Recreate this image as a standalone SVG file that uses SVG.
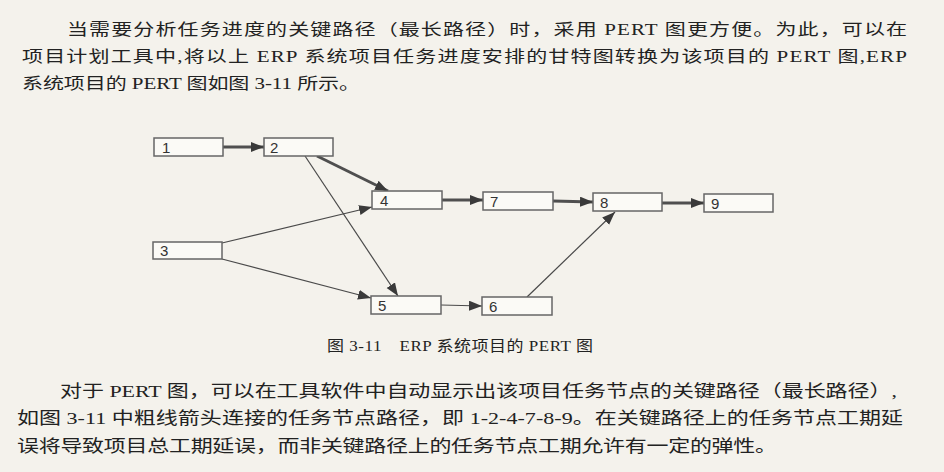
<svg xmlns="http://www.w3.org/2000/svg" width="944" height="472" viewBox="0 0 944 472">
<style>
.body{font-family:"Liberation Serif","Noto Sans CJK SC",serif;fill:#222;}
.box{fill:#fbfaf6;stroke:#666;stroke-width:1.5;}
.lbl{font-family:"Liberation Sans","DejaVu Sans",sans-serif;font-size:15px;fill:#333;}
.thick{stroke:#4f4f4f;stroke-width:3;fill:none;}
.thin{stroke:#4a4a4a;stroke-width:1.2;fill:none;}
</style>
<defs>
<marker id="ah" markerUnits="userSpaceOnUse" markerWidth="14" markerHeight="12" refX="13" refY="5" orient="auto">
<path d="M0,0 L13,5 L0,10 z" fill="#3a3a3a"/>
</marker>
</defs>
<rect width="944" height="472" fill="#f4f2ec"/>
<g id="para-top">
<text class="body" font-size="21" transform="translate(67,35) scale(1,0.75)" textLength="840" lengthAdjust="spacing">当需要分析任务进度的关键路径（最长路径）时，采用 PERT 图更方便。为此，可以在</text>
<text class="body" font-size="21" transform="translate(22,62) scale(1,0.75)" textLength="885" lengthAdjust="spacing">项目计划工具中,将以上 ERP 系统项目任务进度安排的甘特图转换为该项目的 PERT 图,ERP</text>
<text class="body" font-size="21" transform="translate(22,89) scale(1,0.75)" textLength="338" lengthAdjust="spacing">系统项目的 PERT 图如图 3-11 所示。</text>
</g>
<g id="connectors">
<line class="thick" x1="223" y1="147" x2="264" y2="147" marker-end="url(#ah)"/>
<line class="thick" x1="317" y1="156" x2="388" y2="191" marker-end="url(#ah)"/>
<line class="thin" x1="305" y1="156" x2="398" y2="296" marker-end="url(#ah)"/>
<line class="thin" x1="222" y1="243" x2="372" y2="207" marker-end="url(#ah)"/>
<line class="thin" x1="222" y1="259" x2="371" y2="298" marker-end="url(#ah)"/>
<line class="thick" x1="442" y1="200" x2="483" y2="200" marker-end="url(#ah)"/>
<line class="thick" x1="553" y1="201" x2="593" y2="202" marker-end="url(#ah)"/>
<line class="thick" x1="662" y1="203" x2="704" y2="203" marker-end="url(#ah)"/>
<line class="thin" x1="441" y1="305" x2="482" y2="306" marker-end="url(#ah)"/>
<line class="thin" x1="527" y1="297" x2="615" y2="212" marker-end="url(#ah)"/>
</g>
<g id="node1"><rect class="box" x="154" y="138" width="69" height="18"/><text class="lbl" x="162" y="153">1</text></g>
<g id="node2"><rect class="box" x="264" y="138" width="69" height="18"/><text class="lbl" x="270" y="153">2</text></g>
<g id="node3"><rect class="box" x="153" y="242" width="69" height="17"/><text class="lbl" x="160" y="256">3</text></g>
<g id="node4"><rect class="box" x="372" y="191" width="70" height="18"/><text class="lbl" x="380" y="206">4</text></g>
<g id="node5"><rect class="box" x="371" y="296" width="70" height="18"/><text class="lbl" x="378" y="311">5</text></g>
<g id="node6"><rect class="box" x="482" y="297" width="70" height="18"/><text class="lbl" x="489" y="312">6</text></g>
<g id="node7"><rect class="box" x="483" y="192" width="70" height="18"/><text class="lbl" x="490" y="207">7</text></g>
<g id="node8"><rect class="box" x="593" y="193" width="69" height="18"/><text class="lbl" x="600" y="208">8</text></g>
<g id="node9"><rect class="box" x="704" y="194" width="69" height="18"/><text class="lbl" x="711" y="209">9</text></g>
<g id="caption">
<text class="body" font-size="17" transform="translate(327,351) scale(1,0.88)" textLength="266" lengthAdjust="spacing">图 3-11　ERP 系统项目的 PERT 图</text>
</g>
<g id="para-bottom">
<text class="body" font-size="22" transform="translate(60,397) scale(1,0.78)" textLength="837" lengthAdjust="spacing">对于 PERT 图，可以在工具软件中自动显示出该项目任务节点的关键路径（最长路径）,</text>
<text class="body" font-size="22" transform="translate(17,424) scale(1,0.78)" textLength="886" lengthAdjust="spacing">如图 3-11 中粗线箭头连接的任务节点路径，即 1-2-4-7-8-9。在关键路径上的任务节点工期延</text>
<text class="body" font-size="22" transform="translate(17,452) scale(1,0.78)" textLength="760" lengthAdjust="spacing">误将导致项目总工期延误，而非关键路径上的任务节点工期允许有一定的弹性。</text>
</g>
</svg>
